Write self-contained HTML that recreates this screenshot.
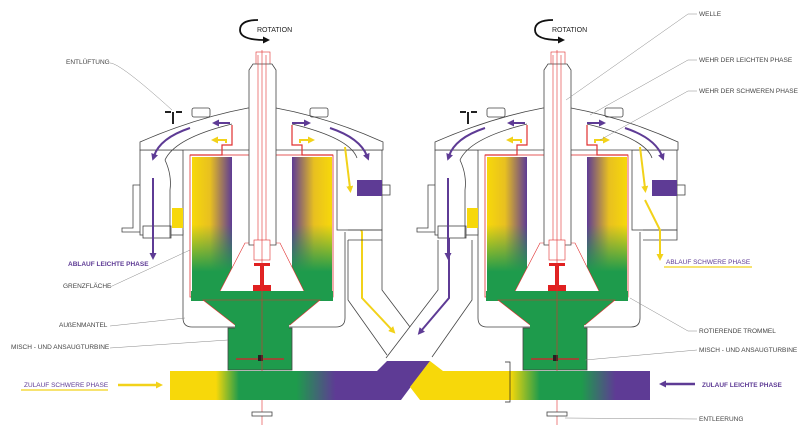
<!DOCTYPE html>
<html><head><meta charset="utf-8"><style>
html,body{margin:0;padding:0;background:#fff;}
svg{display:block;}
text{font-family:"Liberation Sans",sans-serif;font-size:6.5px;fill:#444;}
</style></head><body>
<svg width="800" height="442" viewBox="0 0 800 442" xmlns="http://www.w3.org/2000/svg">
<defs>
<linearGradient id="colL" x1="0" y1="0" x2="1" y2="0"><stop offset="0" stop-color="#f7d80a"/><stop offset="0.45" stop-color="#e8c020"/><stop offset="1" stop-color="#5e3b95"/></linearGradient>
<linearGradient id="colR" x1="0" y1="0" x2="1" y2="0"><stop offset="0" stop-color="#5e3b95"/><stop offset="0.55" stop-color="#e8c020"/><stop offset="1" stop-color="#f7d80a"/></linearGradient>
<linearGradient id="grn" x1="0" y1="0" x2="0" y2="1"><stop offset="0" stop-color="#1e9b4c" stop-opacity="0"/><stop offset="0.5" stop-color="#1e9b4c" stop-opacity="0"/><stop offset="0.85" stop-color="#1e9b4c" stop-opacity="1"/><stop offset="1" stop-color="#1e9b4c"/></linearGradient>
<linearGradient id="pipeL" x1="170" y1="0" x2="400" y2="0" gradientUnits="userSpaceOnUse"><stop offset="0" stop-color="#f7d80a"/><stop offset="0.2" stop-color="#f7d80a"/><stop offset="0.3" stop-color="#1e9b4c"/><stop offset="0.55" stop-color="#1e9b4c"/><stop offset="0.72" stop-color="#5e3b95"/><stop offset="1" stop-color="#5e3b95"/></linearGradient>
<linearGradient id="pipeR" x1="405" y1="0" x2="650" y2="0" gradientUnits="userSpaceOnUse"><stop offset="0" stop-color="#f7d80a"/><stop offset="0.43" stop-color="#f7d80a"/><stop offset="0.55" stop-color="#1e9b4c"/><stop offset="0.72" stop-color="#1e9b4c"/><stop offset="0.86" stop-color="#5e3b95"/><stop offset="1" stop-color="#5e3b95"/></linearGradient>
<marker id="ap" markerUnits="userSpaceOnUse" markerWidth="7" markerHeight="7" refX="2" refY="3.5" orient="auto"><path d="M0,0 L7,3.5 L0,7 Z" fill="#5e3b95"/></marker>
<marker id="ay" markerUnits="userSpaceOnUse" markerWidth="7" markerHeight="7" refX="2" refY="3.5" orient="auto"><path d="M0,0 L7,3.5 L0,7 Z" fill="#f2d21a"/></marker>
<marker id="ak" markerUnits="userSpaceOnUse" markerWidth="7" markerHeight="7" refX="2" refY="3.5" orient="auto"><path d="M0,0 L7,3.5 L0,7 Z" fill="#111"/></marker>
<g id="unit">
 <path d="M183,230 V318 Q183,327 192,327 H336 Q345,327 345,318 V232" fill="#fff" stroke="#444" stroke-width="0.8"/>
 <rect x="140" y="150" width="43" height="85" fill="#fff" stroke="#444" stroke-width="0.8"/>
 <rect x="143" y="226" width="28" height="12" fill="#fff" stroke="#444" stroke-width="0.8"/>
 <path d="M140,185 H133 V228 H122 V232 H140" fill="none" stroke="#444" stroke-width="0.8"/>
 <rect x="172" y="208" width="11" height="20" fill="#f7d80a"/>
 <path d="M165,160 Q172,175 170,190 V238" fill="none" stroke="#444" stroke-width="0.8"/>
 <rect x="337" y="150" width="45" height="80" fill="#fff" stroke="#444" stroke-width="0.8"/>
 <rect x="382" y="185" width="8" height="10" fill="#fff" stroke="#444" stroke-width="0.8"/>
 <rect x="357" y="180" width="25" height="16" fill="#5e3b95"/>
 <path d="M348,230 H382 V240 H348" fill="none" stroke="#444" stroke-width="0.8"/>
 <path d="M140,150 V142 Q195,118 248,108 L276,108 Q330,118 383,142 V150 Z" fill="#fff" stroke="#444" stroke-width="0.8"/>
 <path d="M165,160 Q175,138 232,124 M292,124 Q350,138 357,158" fill="none" stroke="#444" stroke-width="0.8"/>
 <rect x="192" y="108" width="18" height="9" rx="2" fill="none" stroke="#444" stroke-width="0.8"/>
 <rect x="310" y="108" width="18" height="9" rx="2" fill="none" stroke="#444" stroke-width="0.8"/>
 <path d="M165,112 h6 M176,112 h6 M173,112 v12" stroke="#222" stroke-width="2"/>
 <rect x="190" y="155" width="143" height="142" fill="#fff" stroke="#e03030" stroke-width="0.8"/>
 <rect x="192" y="157" width="40" height="135" fill="url(#colL)"/>
 <rect x="192" y="157" width="40" height="135" fill="url(#grn)"/>
 <rect x="292" y="157" width="40" height="135" fill="url(#colR)"/>
 <rect x="292" y="157" width="40" height="135" fill="url(#grn)"/>
 <path d="M190,155 H222 V145 H232 V125 M333,155 H302 V145 H292 V125" fill="none" stroke="#e03030" stroke-width="1.2"/>
 <path d="M245,243 L218,295 H306 L280,243 Z" fill="#fff" stroke="#e03030" stroke-width="0.6"/>
 <rect x="253" y="285" width="18" height="10" fill="#e02020"/>
 <rect x="254" y="263" width="16" height="3" fill="#e02020"/>
 <rect x="260" y="263" width="4" height="25" fill="#e02020"/>
 <rect x="191" y="291" width="142" height="10" fill="#1e9b4c"/>
 <polygon points="203,300 320,300 290,325 235,325" fill="#1e9b4c" stroke="#e03030" stroke-width="0.6"/>
 <rect x="228" y="328" width="64" height="42" fill="#1e9b4c" stroke="#444" stroke-width="0.8"/>
 <rect x="235" y="322" width="54" height="10" fill="#1e9b4c"/>
 <line x1="236" y1="359" x2="284" y2="359" stroke="#c03030" stroke-width="1.5"/>
 <rect x="258" y="355" width="5" height="6" fill="#222"/>
 <rect x="256" y="52" width="14" height="14" fill="#fff" stroke="#e03030" stroke-width="0.6"/>
 <path d="M249,245 V70 L253,64 H272 L276,70 V245 Z" fill="#fff" stroke="#444" stroke-width="0.8"/>
 <line x1="258" y1="55" x2="258" y2="245" stroke="#e03030" stroke-width="0.6"/>
 <line x1="266" y1="55" x2="266" y2="245" stroke="#e03030" stroke-width="0.6"/>
 <rect x="254" y="240" width="16" height="20" fill="#fff" stroke="#e03030" stroke-width="0.6"/>
 <line x1="262" y1="50" x2="262" y2="425" stroke="#e03030" stroke-width="0.6"/>
 <rect x="252" y="412" width="20" height="4" fill="#fff" stroke="#444" stroke-width="0.8"/>
 <path d="M258,20 Q240,20 240,30 Q240,40 265,40" fill="none" stroke="#111" stroke-width="1.8" marker-end="url(#ak)"/>
 <text x="257" y="32" style="font-size:7px;fill:#222">ROTATION</text>
 <path d="M230,123 H217" stroke="#5e3b95" stroke-width="2" fill="none" marker-end="url(#ap)"/>
 <path d="M292,123 H306" stroke="#5e3b95" stroke-width="2" fill="none" marker-end="url(#ap)"/>
 <path d="M190,128 Q160,138 154,156" stroke="#5e3b95" stroke-width="2" fill="none" marker-end="url(#ap)"/>
 <path d="M330,128 Q360,138 367,156" stroke="#5e3b95" stroke-width="2" fill="none" marker-end="url(#ap)"/>
 <path d="M226,143 V140 H216" stroke="#f2d21a" stroke-width="2" fill="none" marker-end="url(#ay)"/>
 <path d="M300,143 V140 H310" stroke="#f2d21a" stroke-width="2" fill="none" marker-end="url(#ay)"/>
 <path d="M345,147 L350,188" stroke="#f2d21a" stroke-width="2" fill="none" marker-end="url(#ay)"/>
 <path d="M153,178 V255" stroke="#5e3b95" stroke-width="2" fill="none" marker-end="url(#ap)"/>
</g>
</defs>
<!-- chutes -->
<path d="M348,240 V300 L387,355 M382,240 V290 L410,327" fill="none" stroke="#444" stroke-width="0.8"/>
<path d="M438,240 V290 L386,358 M472,240 V300 L432,357" fill="none" stroke="#444" stroke-width="0.8"/>
<path d="M350,200 L362,232 V298 L392,330" stroke="#f2d21a" stroke-width="2" fill="none" marker-end="url(#ay)"/>
<path d="M449,200 V298 L421,331" stroke="#5e3b95" stroke-width="2" fill="none" marker-end="url(#ap)"/>

<use href="#unit"/>
<use href="#unit" transform="translate(295,0)"/>
<path d="M645,200 L660,230 V256" stroke="#f2d21a" stroke-width="2" fill="none" marker-end="url(#ay)"/>

<!-- pipes -->
<polygon points="170,371 377,371 387,361 430,361 401,400 170,400" fill="url(#pipeL)"/>
<polygon points="410,387 430,361 443,371 650,371 650,400 420,400" fill="url(#pipeR)"/>
<path d="M505,362 H510 V402 H505" fill="none" stroke="#222" stroke-width="0.7"/>

<!-- labels left -->
<text x="66" y="64">ENTLÜFTUNG</text>
<path d="M110,63 Q120,63 172,110" fill="none" stroke="#888" stroke-width="0.5"/>
<text x="68" y="266" style="fill:#5e3b95;font-weight:bold">ABLAUF LEICHTE PHASE</text>
<text x="63" y="288">GRENZFLÄCHE</text>
<path d="M110,287 L190,250" stroke="#888" stroke-width="0.5"/>
<text x="59" y="327">AUßENMANTEL</text>
<path d="M110,326 L185,318" stroke="#888" stroke-width="0.5"/>
<text x="11" y="349">MISCH - UND ANSAUGTURBINE</text>
<path d="M110,348 L228,340" stroke="#888" stroke-width="0.5"/>
<text x="24" y="387" style="fill:#5e3b95">ZULAUF SCHWERE PHASE</text>
<line x1="21" y1="390" x2="108" y2="390" stroke="#f2d21a" stroke-width="1.2"/>
<path d="M118,385 H158" stroke="#f2d21a" stroke-width="2.5" fill="none" marker-end="url(#ay)"/>

<!-- labels right -->
<text x="699" y="16">WELLE</text>
<path d="M697,14 H688 L566,100" fill="none" stroke="#888" stroke-width="0.5"/>
<text x="699" y="62">WEHR DER LEICHTEN PHASE</text>
<path d="M697,60 H688 L590,115" fill="none" stroke="#888" stroke-width="0.5"/>
<text x="699" y="93">WEHR DER SCHWEREN PHASE</text>
<path d="M697,91 H688 L600,140" fill="none" stroke="#888" stroke-width="0.5"/>
<text x="666" y="264" style="fill:#5e3b95">ABLAUF SCHWERE PHASE</text>
<line x1="664" y1="267" x2="752" y2="267" stroke="#f2d21a" stroke-width="1.2"/>
<text x="699" y="333">ROTIERENDE TROMMEL</text>
<path d="M697,331 H688 L630,298" fill="none" stroke="#888" stroke-width="0.5"/>
<text x="699" y="352">MISCH - UND ANSAUGTURBINE</text>
<path d="M697,350 L585,360" fill="none" stroke="#888" stroke-width="0.5"/>
<text x="702" y="387" style="fill:#5e3b95;font-weight:bold">ZULAUF LEICHTE PHASE</text>
<path d="M695,384 H664" stroke="#5e3b95" stroke-width="2.5" fill="none" marker-end="url(#ap)"/>
<text x="699" y="421">ENTLEERUNG</text>
<path d="M697,419 L565,418" fill="none" stroke="#888" stroke-width="0.5"/>
</svg>
</body></html>
